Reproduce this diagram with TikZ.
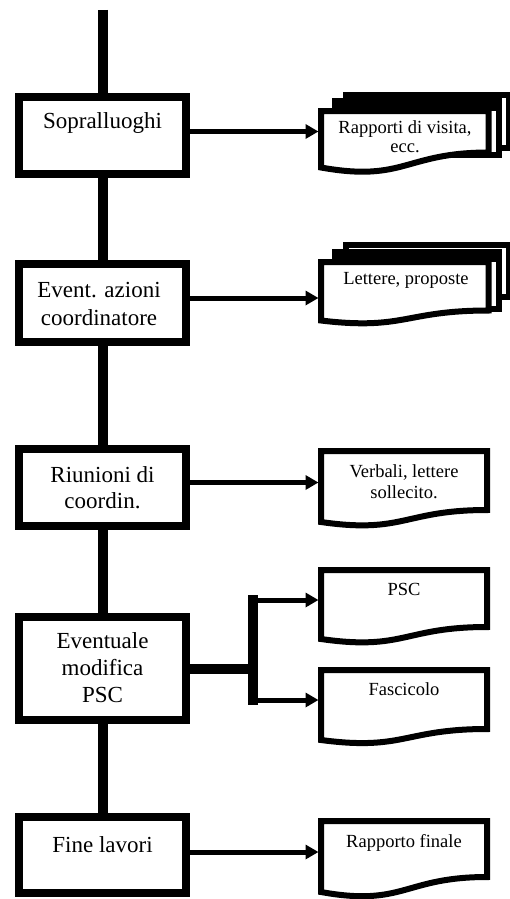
\documentclass[tikz,border=0pt]{standalone}
\usepackage{fontspec}
\setmainfont{Liberation Serif}
\usetikzlibrary{arrows.meta}
% #1 name, #2 xl, #3 xr, #4 top, #5 yr, #6 yl
\newcommand\docshape[6]{%
  \draw[docline] (#2,#4) -- (#3,#4) -- (#3,#5)
    .. controls ({(#2+#3)/2},#5) and ({(#2+#3)/2},{#5+2.0*(#6-#5)}) .. (#2,#6) -- cycle;
  \node[inner sep=0pt, outer sep=0pt, minimum width={#3-#2}, minimum height={#6-#4}] (#1) at ({(#2+#3)/2},{(#4+#6)/2}) {};}
\newcommand\backsheet[4]{%
  \draw[docline] (#1,#3) rectangle (#2,#4);}
\begin{document}
\begin{tikzpicture}[x=1pt,y=-1pt,
  box/.style={draw, line width=8pt, fill=white, minimum width=167pt, inner sep=0pt},
  btext/.style={anchor=base, font=\fontsize{23}{27}\selectfont, inner sep=0pt},
  dtext/.style={anchor=base, font=\fontsize{18.5}{20}\selectfont, inner sep=0pt},
  trunk/.style={line width=10pt},
  fork/.style={line width=10pt},
  arr/.style={line width=5pt, shorten >=2.5pt, -{Triangle[length=13pt,width=14pt]}},
  docline/.style={line width=6pt, fill=white, line join=miter}
]
\fill[white] (0,0) rectangle (510,899);
\useasboundingbox (0,0) rectangle (510,899);

% main boxes
\node[box, minimum height=77pt] (b1) at (102.5,135.5) {};
\node[box, minimum height=78pt] (b2) at (102.5,303) {};
\node[box, minimum height=77pt] (b3) at (102.5,487.5) {};
\node[box, minimum height=103pt] (b4) at (102.5,668.5) {};
\node[box, minimum height=76pt] (b5) at (102.5,855) {};

\node[btext] (t1) at (102.5,128) {Sopralluoghi};
\node[btext] (t2a) at (99,297) {Event. azioni};
\node[btext] (t2b) at (99,325) {coordinatore};
\node[btext] (t3a) at (102.5,482) {Riunioni di};
\node[btext] (t3b) at (102.5,508) {coordin.};
\node[btext] (t4a) at (102.5,648) {Eventuale};
\node[btext] (t4b) at (102.5,675) {modifica};
\node[btext] (t4c) at (102.5,702) {PSC};
\node[btext] (t5) at (102.5,852) {Fine lavori};

% vertical connectors
\coordinate (top) at (102.5,10);
\draw[trunk] (top) -- (b1.north);
\draw[trunk] (b1.south) -- (b2.north);
\draw[trunk] (b2.south) -- (b3.north);
\draw[trunk] (b3.south) -- (b4.north);
\draw[trunk] (b4.south) -- (b5.north);

% documents
\backsheet{346}{509}{95}{148}
\backsheet{335}{499}{101}{155}
\fill[black] (332,98) rectangle (502,111);
\docshape{d1}{321}{488.5}{111}{152.5}{167.5}
\backsheet{346}{509}{245}{297}
\backsheet{335}{499}{252}{309}
\fill[black] (332,249) rectangle (502,262);
\docshape{d2}{321}{488.5}{262}{310.5}{320.5}
\docshape{d3}{321}{487}{451}{510}{522}
\docshape{d4}{321}{487}{570}{627}{639}
\docshape{d5}{321}{487}{670}{729}{740}
\docshape{d6}{321}{487}{821}{877}{892}

\node[dtext] (s1a) at (405,133) {Rapporti di visita,};
\node[dtext] (s1b) at (405,152) {ecc.};
\node[dtext] (s2) at (406,284) {Lettere, proposte};
\node[dtext] (s3a) at (404,477) {Verbali, lettere};
\node[dtext] (s3b) at (404,498) {sollecito.};
\node[dtext] (s4) at (404,595) {PSC};
\node[dtext] (s5) at (404,695) {Fascicolo};
\node[dtext] (s6) at (404,847) {Rapporto finale};

% arrows
\coordinate (a1) at ([yshift=4pt]b1.east);
\coordinate (a2) at ([yshift=5pt]b2.east);
\coordinate (a3) at ([yshift=5pt]b3.east);
\coordinate (a5) at ([yshift=3pt]b5.east);
\draw[arr] (a1) -- (a1 -| d1.west);
\draw[arr] (a2) -- (a2 -| d2.west);
\draw[arr] (a3) -- (a3 -| d3.west);
\draw[arr] (a5) -- (a5 -| d6.west);

% fork
\coordinate (j1) at (253,600);
\coordinate (j2) at (253,700);
\draw[fork] (b4.east) -- (b4.east -| j1);
\draw[fork, line cap=rect] (j1) -- (j2);
\draw[arr] (j1) -- (j1 -| d4.west);
\draw[arr] (j2) -- (j2 -| d5.west);
\end{tikzpicture}
\end{document}
